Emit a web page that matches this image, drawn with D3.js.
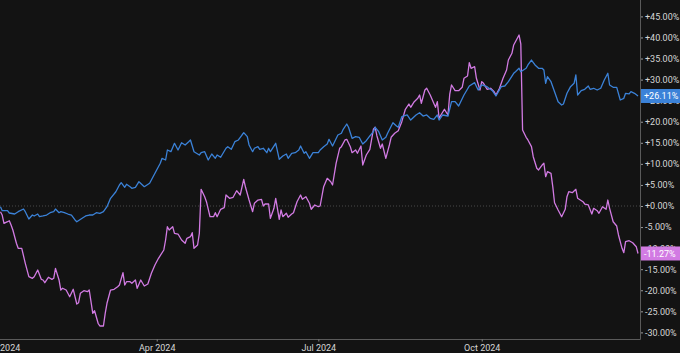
<!DOCTYPE html>
<html><head><meta charset="utf-8">
<script src="https://cdn.jsdelivr.net/npm/d3@7"></script>
<style>
html,body{margin:0;padding:0;background:#131313;}
svg{display:block;}
text{font-family:Roboto, "Noto Sans", sans-serif;}
</style></head>
<body>
<svg id="chart" width="680" height="353"></svg>
<script>
// Days since 2024-01-01 and cumulative % change
const blueDays = [3,4,7,8,11,13,16,17,19,21,22,24,25,27,29,31,33,34,36,37,39,41,43,45,46,49,51,53,55,57,59,61,63,65,68,70,71,73,74,76,77,79,81,84,87,90,93,94,96,97,99,101,103,105,107,109,110,112,115,116,118,120,122,124,125,127,130,131,133,135,137,139,140,142,143,145,146,148,149,151,153,154,155,158,160,162,164,165,167,169,171,172,174,175,177,179,182,183,185,187,188,190,193,195,196,198,199,201,203,205,207,209,211,213,214,216,218,220,221,224,226,227,229,232,234,237,239,241,243,245,247,249,250,252,255,257,259,261,264,267,270,272,274,277,280,282,285,287,289,292,293,295,296,299,300,302,304,306,308,309,310,311,313,315,317,319,320,322,324,326,327,328,330,332,334,335,337,339,341,343,345,346,348,350,352,354,355,357,358,360,362];
const blueValues = [-0.17,-1.12,-1.12,-1.66,-1.90,-1.35,-0.71,-1.35,-3.09,-2.14,-2.37,-1.90,-2.54,-2.37,-2.14,-1.59,-1.35,-0.71,-1.59,-1.35,-1.59,-1.90,-2.14,-3.32,-3.73,-2.92,-2.37,-2.14,-2.14,-1.59,-1.73,-1.35,-0.17,1.83,3.39,4.98,5.53,4.44,5.15,4.58,4.20,4.44,5.77,4.58,5.39,7.76,10.14,11.32,10.92,13.29,12.89,14.88,13.29,15.03,14.48,15.26,15.67,12.89,12.11,12.65,12.89,10.92,12.34,11.32,12.11,11.56,13.70,14.08,13.46,15.26,15.67,16.85,17.40,16.45,14.48,12.89,13.70,14.08,13.46,13.70,12.65,13.70,12.89,14.88,11.08,11.87,12.34,11.32,12.51,12.65,13.29,14.24,12.51,12.89,11.32,12.65,12.65,13.29,14.08,14.72,15.83,14.24,16.85,17.26,18.21,19.46,18.68,16.07,16.45,16.31,14.72,15.50,16.62,17.64,18.68,17.64,15.67,16.31,17.26,19.77,18.99,18.68,21.20,21.60,20.41,21.60,22.15,21.36,21.60,20.82,20.58,21.60,20.41,21.60,21.36,24.76,24.76,23.74,26.35,28.48,29.27,27.53,28.72,28.32,27.37,26.11,28.32,28.48,29.50,31.50,31.88,32.68,31.88,32.68,33.47,34.65,33.47,32.68,32.68,32.28,29.12,30.69,29.50,27.13,24.76,23.97,24.21,26.75,28.32,29.12,31.09,26.35,27.37,27.70,28.48,27.70,27.94,27.53,27.94,29.91,31.50,28.72,28.17,28.17,25.16,25.56,26.75,26.59,27.13,26.75,26.11];

const pinkDays = [3,4,5,7,8,9,10,12,13,15,17,19,21,22,24,26,27,28,30,32,33,34,36,37,38,40,42,44,46,47,48,50,52,53,55,56,58,59,61,62,63,65,67,69,70,72,73,74,76,77,79,80,82,84,86,88,90,92,95,96,97,98,100,101,103,105,107,108,110,111,112,114,115,116,118,119,121,123,124,125,127,129,130,132,134,136,138,140,141,143,145,146,148,150,151,152,154,155,157,158,160,161,162,164,165,167,168,170,172,173,175,177,178,180,182,183,185,187,189,190,192,194,195,197,198,200,201,203,204,206,207,209,211,213,214,215,217,218,220,221,222,223,225,227,229,231,233,234,236,238,239,240,242,243,245,247,248,249,250,251,253,255,256,257,259,261,263,264,266,267,268,270,271,273,274,275,277,279,281,282,284,286,288,289,291,292,295,296,297,299,300,302,303,305,306,308,309,310,311,313,314,315,317,319,321,322,323,325,327,328,331,332,334,336,337,339,340,342,344,345,346,348,350,351,353,354,355,357,359,361,362];
const pinkValues = [-1.35,-2.14,-4.11,-3.73,-3.49,-4.51,-5.70,-8.85,-10.04,-10.04,-13.60,-16.78,-17.16,-16.78,-15.19,-17.40,-17.56,-18.21,-16.92,-17.40,-17.16,-14.79,-17.56,-19.94,-19.53,-19.94,-21.53,-19.77,-23.26,-22.95,-20.72,-20.10,-20.34,-19.94,-25.47,-24.85,-27.84,-28.48,-28.48,-25.47,-23.09,-19.94,-19.77,-19.15,-18.75,-15.83,-18.75,-17.97,-17.97,-18.35,-17.56,-19.53,-17.56,-18.99,-18.51,-15.97,-14.00,-12.41,-10.44,-8.07,-4.91,-5.70,-4.91,-6.48,-6.65,-8.07,-8.85,-7.67,-7.29,-6.34,-10.04,-9.26,-6.48,3.96,2.21,1.02,-2.54,-2.54,-1.59,-2.54,-0.78,-0.40,2.61,1.83,2.07,3.63,2.61,6.34,4.44,1.42,-1.35,0.64,1.42,1.59,0.00,0.47,0.47,-2.92,-0.55,1.83,-3.16,-0.95,-2.54,-1.73,-2.68,-1.90,-1.59,1.02,2.61,1.59,2.21,0.64,-0.78,0.24,-0.17,0.00,4.58,6.57,5.77,4.98,10.14,13.70,14.08,15.67,15.83,14.08,12.65,13.29,12.51,14.24,9.73,12.11,13.46,18.21,18.68,16.62,13.70,14.72,11.32,12.89,14.48,16.31,17.26,17.87,20.01,22.95,24.21,23.43,24.76,25.56,26.35,24.38,27.53,27.94,26.35,24.38,23.43,24.76,20.82,21.60,22.95,21.60,26.58,28.72,27.37,27.37,28.17,30.31,30.86,34.01,32.68,33.06,30.31,27.53,29.50,29.12,27.70,27.94,27.13,26.35,27.94,30.31,32.28,34.65,36.24,38.22,40.59,38.45,18.04,16.30,15.67,14.08,11.70,8.95,8.55,9.73,10.14,6.95,8.14,7.76,4.58,0.78,-0.95,-2.54,-0.78,2.21,3.39,3.16,3.96,1.83,1.02,0.47,0.24,-1.90,-0.55,-1.12,-1.73,-0.17,-0.78,1.42,-0.55,-3.73,-4.75,-6.88,-10.04,-11.08,-8.47,-8.24,-8.71,-9.66,-11.27];

const yTicks = [45,40,35,30,25,20,15,10,5,0,-5,-10,-15,-20,-25,-30];
const xTickDates = ["2024-01-01","2024-04-01","2024-07-01","2024-10-01"];
const blueLast = 26.11, pinkLast = -11.27;

const start = new Date(2024,0,1);
const toDate = d => d3.timeDay.offset(start, d);
const parse = d3.timeParse("%Y-%m-%d");

const svg = d3.select("#chart");
const plotRight = 640, plotBottom = 339;

const x = d3.scaleTime()
  .domain([start, new Date(2024,11,29)])
  .range([-4.9, 639.8]);
const y = d3.scaleLinear().domain([-30,45]).range([332.4,16.4]);

const fmt = v => (v>0?"+":v<0?"-":"+") + Math.abs(v).toFixed(2) + "%";

// zero line
svg.append("line")
  .attr("x1",0).attr("x2",plotRight)
  .attr("y1",y(0)).attr("y2",y(0))
  .attr("stroke","#4a4a4a").attr("stroke-width",1)
  .attr("stroke-dasharray","1,2");

// axes lines
svg.append("line").attr("x1",plotRight+0.5).attr("x2",plotRight+0.5)
  .attr("y1",0).attr("y2",plotBottom+0.5).attr("stroke","#5a5a5a");
svg.append("line").attr("x1",0).attr("x2",plotRight+0.5)
  .attr("y1",plotBottom+0.5).attr("y2",plotBottom+0.5).attr("stroke","#5a5a5a");

// y axis
const yAxis = d3.axisRight(y).tickValues(yTicks).tickSize(2).tickPadding(2).tickFormat(fmt);
const gy = svg.append("g").attr("transform",`translate(${plotRight+1},0)`).call(yAxis);
gy.select(".domain").remove();
gy.selectAll(".tick line").attr("stroke","#9a9a9a");
gy.selectAll("text").attr("fill","#d6d6d6").attr("font-size",9);

// x axis
const xAxis = d3.axisBottom(x).tickValues(xTickDates.map(parse)).tickSize(2).tickPadding(3)
  .tickFormat(d3.timeFormat("%b %Y"));
const gx = svg.append("g").attr("transform",`translate(0,${plotBottom+0.5})`).call(xAxis);
gx.select(".domain").remove();
gx.selectAll(".tick line").attr("stroke","#8a8a8a");
gx.selectAll("text").attr("fill","#d6d6d6").attr("font-size",9);
gx.selectAll("text").filter((d,i)=>i===0).attr("dx",6);

// lines
const line = d3.line().x(d=>x(toDate(d[0]))).y(d=>y(d[1]));
const blue = blueDays.map((d,i)=>[d,blueValues[i]]);
const pink = pinkDays.map((d,i)=>[d,pinkValues[i]]);

svg.append("path").datum(pink).attr("d",line)
  .attr("fill","none").attr("stroke","#d27be3").attr("stroke-width",1.3).attr("stroke-linejoin","round");
svg.append("path").datum(blue).attr("d",line)
  .attr("fill","none").attr("stroke","#3b82d8").attr("stroke-width",1.3).attr("stroke-linejoin","round");

// last value labels
function tag(v, color){
  const g = svg.append("g").attr("transform",`translate(${plotRight+1},${y(v)})`);
  g.append("rect").attr("x",0).attr("y",-7).attr("width",39).attr("height",14).attr("fill",color);
  g.append("text").attr("x",3).attr("y",0).attr("dy","0.35em")
    .attr("fill","#ffffff").attr("font-size",9).text(fmt(v));
}
tag(blueLast,"#3b82d8");
tag(pinkLast,"#d27be3");
</script>
</body></html>
